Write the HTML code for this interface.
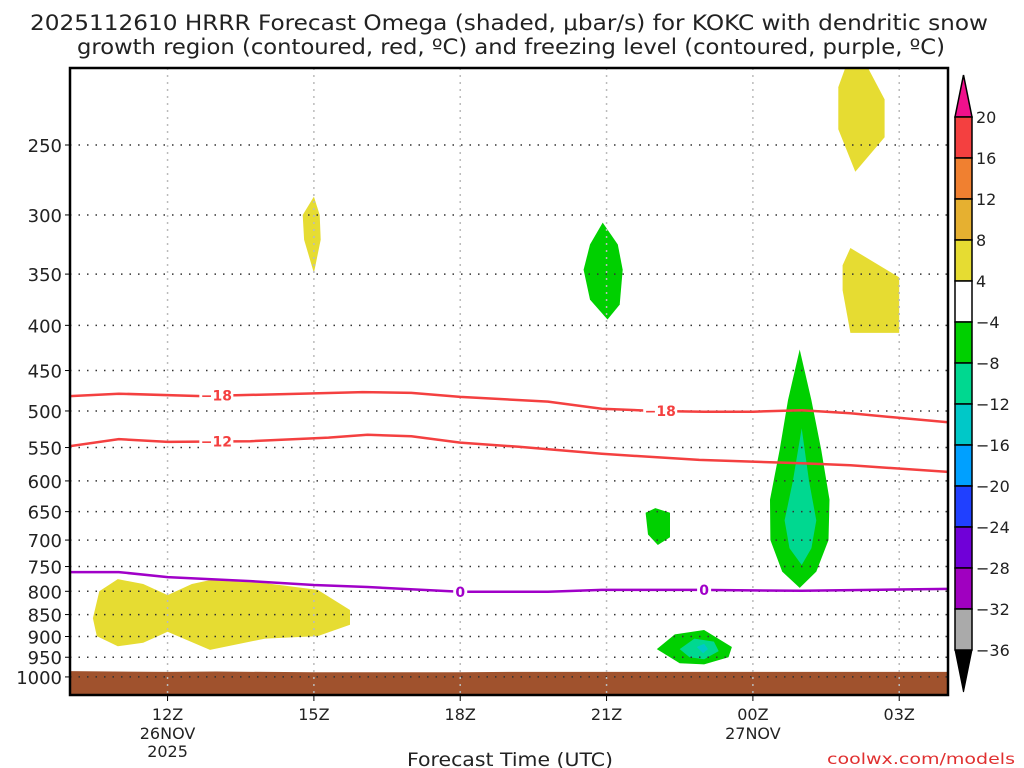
<!DOCTYPE html>
<html><head><meta charset="utf-8"><style>
html,body{margin:0;padding:0;background:#fff;width:1024px;height:768px;overflow:hidden}
svg{display:block;font-family:"DejaVu Sans","Liberation Sans",sans-serif}
</style></head><body>
<svg id="chart" width="1024" height="768" viewBox="0 0 1024 768"></svg>
<script>
const pressureTicks=[250,300,350,400,450,500,550,600,650,700,750,800,850,900,950,1000];
const timeTicks=[12,15,18,21,24,27];
const timeLabels=["12Z","15Z","18Z","21Z","00Z","03Z"];
const contourM18=[[10,481],[11,478],[12.7,481],[14.7,478],[16,476],[17,477],[18,482],[19.8,488],[20.9,497],[22,500],[23,501],[24,501],[25,499],[26,503],[28,515]];
const contourM12=[[10,548],[11,538],[12,542],[13.7,541],[15.3,536],[16.1,532],[17,534],[18,543],[19.2,549],[20.9,559],[22.9,568],[25,573],[26,576],[28,586]];
const contourZero=[[10,761],[11,761],[12,771],[13.7,779],[15,787],[16.1,791],[18,801],[19.8,801],[20.9,797],[22.9,797],[25,799],[28,795]];
const surfacePressure=[[10,985],[12,987],[13,986],[15,988],[18,988],[19,987],[28,987]];
const blobs=[
 {c:"#e6dc32",pts:[[25.9,204],[26.35,204],[26.7,222],[26.7,245],[26.1,268],[25.75,240],[25.75,215]]},
 {c:"#e6dc32",pts:[[25.84,342],[26.0,327],[27.0,353],[27.0,408],[26.0,408],[25.84,365]]},
 {c:"#e6dc32",pts:[[15.0,286],[15.12,300],[15.14,320],[15.0,349],[14.8,320],[14.77,300]]},
 {c:"#00d000",pts:[[20.92,306],[21.23,324],[21.33,346],[21.27,379],[21.02,394],[20.66,374],[20.53,346],[20.66,324]]},
 {c:"#e6dc32",pts:[[10.47,858],[10.6,800],[10.98,775],[11.5,785],[12.0,808],[12.5,785],[12.87,777],[14,783],[15.08,797],[15.74,840],[15.74,873],[15.08,899],[14,905],[12.87,932],[12.0,889],[11.5,915],[10.98,923],[10.55,899]]},
 {c:"#00d000",pts:[[22.0,644],[22.3,652],[22.3,695],[22.05,709],[21.85,690],[21.8,652]]},
 {c:"#00d000",pts:[[22.03,930],[22.4,895],[23.0,885],[23.57,925],[23.5,950],[23.0,968],[22.5,965]]},
 {c:"#00d890",pts:[[22.5,930],[22.8,905],[23.2,912],[23.3,935],[23.0,955],[22.7,950]]},
 {c:"#00c8c8",pts:[[22.85,925],[23.0,917],[23.08,930],[22.98,940]]},
 {c:"#00d000",pts:[[24.96,426],[25.2,486],[25.4,553],[25.57,630],[25.55,700],[25.3,760],[24.96,793],[24.6,760],[24.36,700],[24.35,630],[24.55,553],[24.72,486]]},
 {c:"#00d890",pts:[[25.0,523],[25.15,600],[25.3,665],[25.2,715],[25.0,747],[24.75,715],[24.65,665],[24.82,600]]}
];
const cbLabels=["20","16","12","8","4","\u22124","\u22128","\u221212","\u221216","\u221220","\u221224","\u221228","\u221232","\u221236"];
const cbColors=["#f44040","#f08030","#e6b030","#e6dc32","#ffffff","#00d000","#00d890","#00c8c8","#00a0ff","#2040ff","#7000d8","#a000c0","#aaaaaa"];

const L=70,R=948,T=68,B=695;
const NS="http://www.w3.org/2000/svg";
const svg=document.getElementById('chart');
const X=h=>L+(h-10)*(R-L)/18;
const Y=p=>145+383.7*Math.log(p/250);
function el(tag,attrs,parent){const e=document.createElementNS(NS,tag);for(const k in attrs)e.setAttribute(k,attrs[k]);(parent||svg).appendChild(e);return e;}
function txt(s,x,y,attrs){const t=el('text',Object.assign({x:x,y:y},attrs));t.textContent=s;return t;}

const defs=el('defs',{});const cp=el('clipPath',{id:'pc'},defs);el('rect',{x:L,y:T,width:R-L,height:B-T},cp);
const plot=el('g',{'clip-path':'url(#pc)'});



blobs.forEach((b,i)=>{
 const p=el('polygon',{points:b.pts.map(q=>X(q[0]).toFixed(1)+','+Y(q[1]).toFixed(1)).join(' '),fill:b.c},plot);
 
 
});
let gp='M'+L+','+B;surfacePressure.forEach(q=>gp+=' L'+X(q[0]).toFixed(1)+','+Y(q[1]).toFixed(1));gp+=' L'+R+','+B+'Z';
const g=el('path',{d:gp,fill:'#a0522d'},plot);



pressureTicks.forEach(p=>{
 const l=el('line',{x1:L,x2:R,y1:Y(p),y2:Y(p),stroke:'#333','stroke-width':1.5,'stroke-dasharray':'1.5 7'},plot);
 
 
});
timeTicks.forEach(h=>{
 const l=el('line',{x1:X(h),x2:X(h),y1:T,y2:B,stroke:'#bbb','stroke-width':1.5,'stroke-dasharray':'2 5'},plot);
 
 
});
function line(data,color,name){
 const d=data.map((q,i)=>(i?'L':'M')+X(q[0]).toFixed(1)+','+Y(q[1]).toFixed(1)).join(' ');
 const p=el('path',{d:d,fill:'none',stroke:color,'stroke-width':2.5},plot);
 
 
}
line(contourM18,'#f44040','contour-minus18');
line(contourM12,'#f44040','contour-minus12');
line(contourZero,'#a000c8','freezing-level');
function interp(data,h){for(let i=1;i<data.length;i++){if(h<=data[i][0]){const a=data[i-1],b=data[i],t=(h-a[0])/(b[0]-a[0]);return a[1]+t*(b[1]-a[1]);}}return data[data.length-1][1];}
function clabel(s,data,h,color){
 const x=X(h),y=Y(interp(data,h));
 el('rect',{x:x-s.length*5-2,y:y-7,width:s.length*10+4,height:14,fill:'#fff'},plot);
 const t=txt(s,x,y+5,{'text-anchor':'middle','font-size':14,'font-weight':'bold',fill:color});
 plot.appendChild(t);
 
 
}
clabel('\u221218',contourM18,13.0,'#f44040');
clabel('\u221218',contourM18,22.1,'#f44040');
clabel('\u221212',contourM12,13.0,'#f44040');
clabel('0',contourZero,18.0,'#a000c8');
clabel('0',contourZero,23.0,'#a000c8');

const fr=el('rect',{x:L,y:T,width:R-L,height:B-T,fill:'none',stroke:'#000','stroke-width':2.5});



pressureTicks.forEach(p=>{
 el('line',{x1:L-5,x2:L,y1:Y(p),y2:Y(p),stroke:'#000','stroke-width':1});
 const t=txt(String(p),L-8,Y(p)+7,{'text-anchor':'end','font-size':18,fill:'#222'});
 
 
});
timeTicks.forEach((h,i)=>{
 el('line',{x1:X(h),x2:X(h),y1:B,y2:B+6,stroke:'#000','stroke-width':1});
 const t=txt(timeLabels[i],X(h),B+25,{'text-anchor':'middle','font-size':16,fill:'#222'});
 
 
});
[['26NOV',12,739],['2025',12,757],['27NOV',24,739]].forEach(a=>{
 const t=txt(a[0],X(a[1]),a[2],{'text-anchor':'middle','font-size':16,fill:'#222'});
 
 
});
const xt=txt('Forecast Time (UTC)',510,766,{'text-anchor':'middle','font-size':19,fill:'#222',textLength:206,lengthAdjust:'spacingAndGlyphs'});


const cr=txt('coolwx.com/models',1015,764,{'text-anchor':'end','font-size':15,fill:'#e03030',textLength:188,lengthAdjust:'spacingAndGlyphs'});


const t1=txt('2025112610 HRRR Forecast Omega (shaded, \u03bcbar/s) for KOKC with dendritic snow',509,30,{'text-anchor':'middle','font-size':21,fill:'#222',textLength:958,lengthAdjust:'spacingAndGlyphs'});


const t2=txt('growth region (contoured, red, \u00baC) and freezing level (contoured, purple, \u00baC)',511,54,{'text-anchor':'middle','font-size':21,fill:'#222',textLength:868,lengthAdjust:'spacingAndGlyphs'});



const cx=955,cw=17,c0=117,ch=41;
const cb=el('g',{});


el('polygon',{points:`${cx},${c0} ${cx+cw},${c0} ${cx+cw/2},${c0-42}`,fill:'#f0108c',stroke:'#000','stroke-width':1.5},cb);
cbColors.forEach((c,i)=>{el('rect',{x:cx,y:c0+i*ch,width:cw,height:ch,fill:c,stroke:'#000','stroke-width':1.5},cb);});
const cbEnd=c0+cbColors.length*ch;
el('polygon',{points:`${cx},${cbEnd} ${cx+cw},${cbEnd} ${cx+cw/2},${cbEnd+42}`,fill:'#000',stroke:'#000'},cb);
cbLabels.forEach((s,i)=>{const t=txt(s,976,c0+i*ch+6,{'font-size':16,fill:'#222'});cb.appendChild(t);});
</script>
</body></html>
